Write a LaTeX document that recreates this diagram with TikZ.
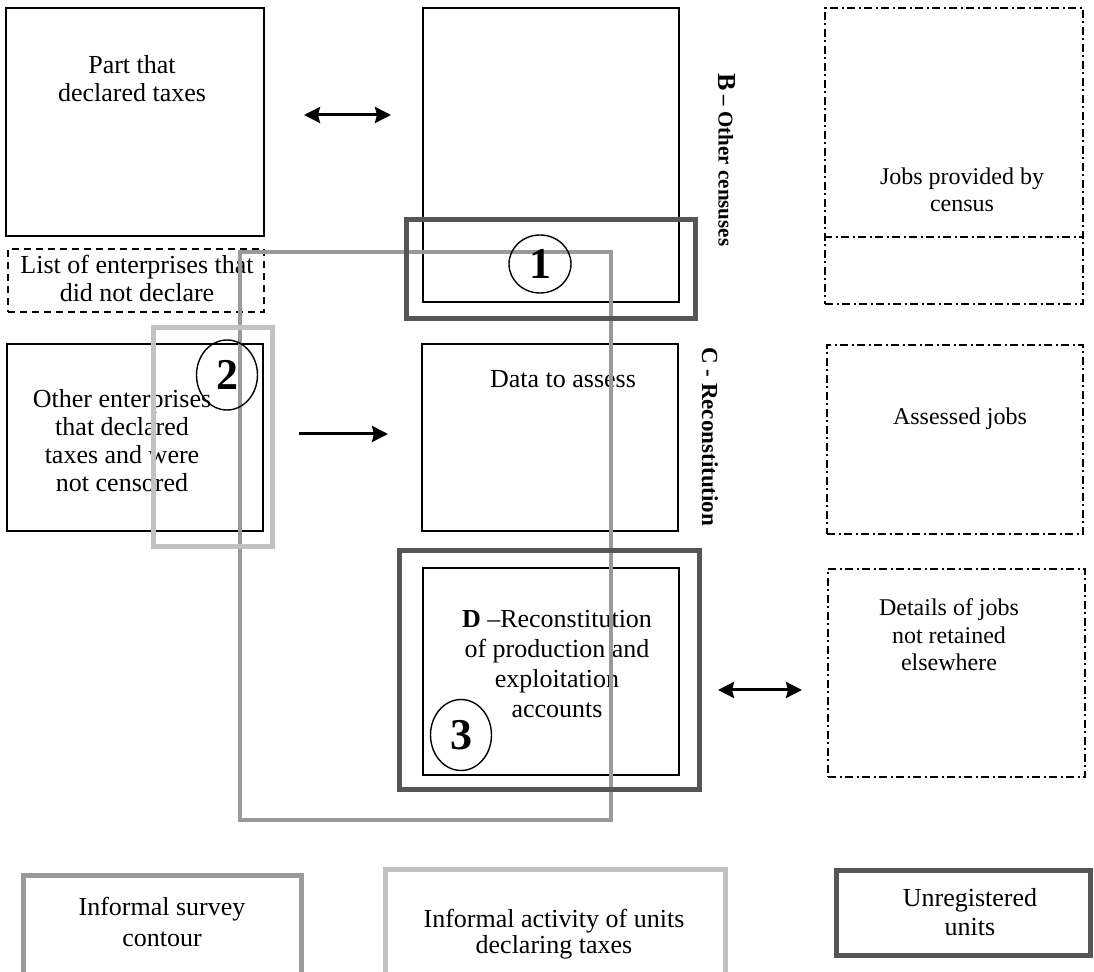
\documentclass[tikz,border=0pt]{standalone}
\usepackage{fontspec}
\setmainfont{Liberation Serif}
\usetikzlibrary{shapes.geometric,arrows.meta}
\definecolor{unregcol}{HTML}{565656}
\definecolor{surveycol}{HTML}{9A9A9A}
\definecolor{declcol}{HTML}{C2C2C2}

\begin{document}
\begin{tikzpicture}[x=0.5pt, y=-0.5pt, >={Stealth[length=8pt,width=8pt,inset=1pt]},
                        box/.style={draw,line width=1pt,inner sep=0pt},
                        dashbox/.style={box,dash pattern=on 3.5pt off 2.5pt},
                        dotbox/.style={box,dash pattern=on 4pt off 1.75pt on 1pt off 1.75pt},
                        txt/.style={align=center,inner sep=0pt,font=\fontsize{13}{14}\selectfont},
                        jobtxt/.style={align=center,inner sep=0pt,font=\fontsize{12}{13.75}\selectfont},
                        unreg/.style={draw=unregcol,line width=2.5pt,inner sep=0pt},
                        survey/.style={draw=surveycol,line width=2pt,inner sep=0pt},
                        decl/.style={draw=declcol,line width=2.5pt,inner sep=0pt},
                        num/.style={ellipse,draw,line width=0.7pt,inner sep=0pt,font=\fontsize{22}{22}\selectfont\bfseries},
                        pil/.style={line width=1.5pt}
                        ]
    \useasboundingbox (0,0) rectangle (1094,972);
    \node (partdecl) [box,minimum width=129pt,minimum height=114pt] at (135,122) {};
    \node (nodecl) [dashbox,minimum width=128pt,minimum height=31.5pt] at (136,280.5) {};
    \node (otherent) [box,minimum width=128pt,minimum height=93.5pt] at (135,437.5) {};
    \node (censusB) [box,minimum width=128pt,minimum height=147pt] at (551,155) {};
    \node (dataassess) [box,minimum width=128pt,minimum height=93.5pt] at (550,437.5) {};
    \node (reconD) [box,minimum width=128pt,minimum height=103.5pt] at (551,671.5) {};
    \node (jobscensus) [dotbox,minimum width=129pt,minimum height=148pt] at (954,156) {};
    \node (assessed) [dotbox,minimum width=128pt,minimum height=94.5pt] at (955,439.5) {};
    \node (details) [dotbox,minimum width=128.5pt,minimum height=104pt] at (956.5,673) {};
    \draw[dotbox] (jobscensus.west |- 0,237) -- (jobscensus.east |- 0,237);

    \node (partdecltxt) [txt] at (132,79) {Part that\\declared taxes};
    \node (nodecltxt) [txt] at (137,278) {List of enterprises that\\did not declare};
    \node (otherenttxt) [txt] at (122,441) {Other enterprises\\that declared\\taxes and were\\not censored};
    \node (dataassesstxt) [txt,anchor=base] at (563,388) {Data to assess};
    \node (reconDtxt) [txt,font=\fontsize{13}{15}\selectfont] at (557,664) {\textbf{D} –Reconstitution\\of production and\\exploitation\\accounts};
    \node (jobstxt) [jobtxt] at (962,190) {Jobs provided by\\census};
    \node (assessedtxt) [jobtxt,anchor=base] at (960,425) {Assessed jobs};
    \node (detailstxt) [jobtxt] at (949,635) {Details of jobs\\not retained\\elsewhere};

    \node (Blbl) [anchor=west,rotate=-90,inner sep=0pt,font=\bfseries] at (727,73) {{\fontsize{13}{13}\selectfont B} {\fontsize{10.5}{12}\selectfont – Other censuses}};
    \node (Clbl) [anchor=west,rotate=-90,inner sep=0pt,font=\fontsize{11.5}{12}\selectfont\bfseries] at (710,347) {C - Reconstitution};

    \node (surveyarea) [survey,minimum width=185.5pt,minimum height=284pt] at (425.5,536) {};
    \node (declarea) [decl,minimum width=59.5pt,minimum height=109.5pt] at (213,437) {};
    \node (unreg1) [unreg,minimum width=144.5pt,minimum height=49.5pt] at (551,269) {};
    \node (unreg3) [unreg,minimum width=150pt,minimum height=119.5pt] at (549.5,670) {};

    \node (num1) [num,minimum width=31pt,minimum height=29pt] at (540,264) {1};
    \node (num2) [num,minimum width=30.5pt,minimum height=35pt] at (227,375) {2};
    \node (num3) [num,minimum width=30.5pt,minimum height=35.5pt] at (461,735) {3};

    \draw[<->,pil,shorten <=19.5pt,shorten >=15.5pt] (partdecl.east |- 0,115) -- (censusB.west |- 0,115);
    \draw[->,pil,shorten <=17.5pt,shorten >=16.5pt] (otherent.east |- 0,434) -- (dataassess.west |- 0,434);
    \draw[<->,pil,shorten <=8pt,shorten >=12.5pt] (unreg3.east |- 0,690) -- (details.west |- 0,690);

    \node (legsurvey) [survey,line width=2.5pt,minimum width=139pt,minimum height=57.25pt] at (162.5,932.75) {};
    \node (legsurveytxt) [txt,font=\fontsize{13}{15.5}\selectfont] at (162,922) {Informal survey\\contour};
    \node (legdecl) [decl,minimum width=170pt,minimum height=60.25pt] at (555.5,929.75) {};
    \node (legdecltxt) [txt,font=\fontsize{13}{13}\selectfont] at (554,934) {Informal activity of units\\declaring taxes};
    \node (legunreg) [unreg,minimum width=127pt,minimum height=42.5pt] at (963.5,913) {};
    \node (legunregtxt) [txt,font=\fontsize{13}{14.5}\selectfont] at (970,912) {Unregistered\\units};
\end{tikzpicture}
\end{document}
